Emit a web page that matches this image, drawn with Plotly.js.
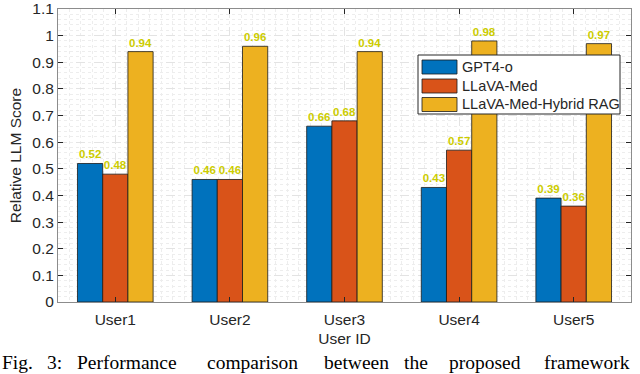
<!DOCTYPE html>
<html>
<head>
<meta charset="utf-8">
<script src="https://cdn.plot.ly/plotly-3.0.1.min.js"></script>
<style>
  html, body { margin: 0; padding: 0; background: #fff; }
  #chart { width: 640px; height: 374px; }
</style>
</head>
<body>
<div id="chart"></div>
<script>
// chart data
var categories = ['User1', 'User2', 'User3', 'User4', 'User5'];
var gpt4o = [0.52, 0.46, 0.66, 0.43, 0.39];
var llavaMed = [0.48, 0.46, 0.68, 0.57, 0.36];
var hybridRag = [0.94, 0.96, 0.94, 0.98, 0.97];
var seriesNames = ['GPT4-o', 'LLaVA-Med', 'LLaVA-Med-Hybrid RAG'];
var seriesColors = ['#0072BD', '#D95319', '#EDB120'];
var yTicks = [0, 0.1, 0.2, 0.3, 0.4, 0.5, 0.6, 0.7, 0.8, 0.9, 1, 1.1];
var yTickText = ['0', '0.1', '0.2', '0.3', '0.4', '0.5', '0.6', '0.7', '0.8', '0.9', '1', '1.1'];
var captionWords = ['Fig.', '3:', 'Performance', 'comparison', 'between', 'the', 'proposed', 'framework'];

var cLabel = '#cccc00';
var cText = '#262626';
var fontSans = 'Liberation Sans, Arial, sans-serif';

// plot area in pixels
var plotL = 58, plotR = 631, plotT = 9, plotB = 302;
function px2x(px) { return (px - plotL) / (plotR - plotL); }
function py2y(py) { return (plotB - py) / (plotB - plotT); }

var xIdx = categories.map(function (c, i) { return i; });
var allSeries = [gpt4o, llavaMed, hybridRag];

var data = allSeries.map(function (vals, i) {
    return {
        type: 'bar',
        x: xIdx,
        y: vals,
        name: seriesNames[i],
        marker: {color: seriesColors[i], line: {color: '#1a1a1a', width: 0.8}},
        text: vals.map(function (v) { return v.toFixed(2); }),
        textposition: 'outside',
        constraintext: 'none',
        cliponaxis: false,
        textfont: {family: fontSans, size: 11.5, color: cLabel, weight: 'bold'},
        showlegend: false,
        hoverinfo: 'none'
    };
});

// legend drawn by hand so the swatches are wide like the original
var shapes = [{
    type: 'rect', xref: 'paper', yref: 'paper',
    x0: px2x(418), x1: px2x(620), y0: py2y(114), y1: py2y(55),
    fillcolor: '#ffffff', line: {color: cText, width: 1}
}];
var annotations = [];
var rowY = [67, 86, 104.5];
seriesNames.forEach(function (n, i) {
    shapes.push({
        type: 'rect', xref: 'paper', yref: 'paper',
        x0: px2x(422), x1: px2x(457), y0: py2y(rowY[i] + 7), y1: py2y(rowY[i] - 7),
        fillcolor: seriesColors[i], line: {color: '#1a1a1a', width: 0.8}
    });
    annotations.push({
        xref: 'paper', yref: 'paper', x: px2x(460), y: py2y(rowY[i]),
        xanchor: 'left', yanchor: 'middle', showarrow: false,
        text: n, font: {family: fontSans, size: 14.5, color: cText}
    });
});

// caption below the figure (justified, so each word placed on its own)
var captionX = [0, 45, 75, 205, 322, 402, 447, 542];
captionWords.forEach(function (w, i) {
    annotations.push({
        xref: 'paper', yref: 'paper', x: px2x(captionX[i]), y: py2y(375),
        xanchor: 'left', yanchor: 'bottom', showarrow: false,
        text: w, font: {family: 'Liberation Serif, Times New Roman, serif', size: 19.5, color: '#000'}
    });
});

var layout = {
    width: 640, height: 374,
    margin: {l: plotL, r: 640 - plotR, t: plotT, b: 374 - plotB},
    paper_bgcolor: '#ffffff',
    plot_bgcolor: '#ffffff',
    barmode: 'group',
    bargap: 0.34,
    bargroupgap: 0,
    font: {family: fontSans, color: cText},
    xaxis: {
        range: [-0.5, 4.5],
        tickvals: xIdx, ticktext: categories,
        tickfont: {size: 15.5, color: cText},
        ticklabelstandoff: 3,
        ticks: 'inside', ticklen: 5, tickcolor: cText,
        showline: true, linecolor: '#8c8c8c', linewidth: 1, mirror: 'ticks',
        showgrid: true, gridcolor: '#e3e3e3', griddash: 'dash', gridwidth: 1,
        minor: {dtick: 0.1, tick0: -0.5, showgrid: true, gridcolor: '#ededed', griddash: 'dot', gridwidth: 1},
        zeroline: false,
        title: {text: 'User ID', font: {size: 15.5, color: cText}, standoff: 6},
        automargin: false
    },
    yaxis: {
        range: [0, 1.1],
        tickvals: yTicks, ticktext: yTickText,
        tickfont: {size: 15.5, color: cText},
        ticklabeloverflow: 'allow',
        ticks: 'inside', ticklen: 5, tickcolor: cText,
        showline: true, linecolor: '#8c8c8c', linewidth: 1, mirror: 'ticks',
        showgrid: true, gridcolor: '#e3e3e3', griddash: 'dash', gridwidth: 1,
        minor: {dtick: 0.02, showgrid: true, gridcolor: '#ededed', griddash: 'dot', gridwidth: 1},
        zeroline: false,
        title: {text: 'Relative LLM Score', font: {size: 15.5, color: cText}, standoff: 6},
        automargin: false
    },
    shapes: shapes,
    annotations: annotations,
    showlegend: false
};

Plotly.newPlot('chart', data, layout, {displayModeBar: false, staticPlot: true});
</script>
</body>
</html>
